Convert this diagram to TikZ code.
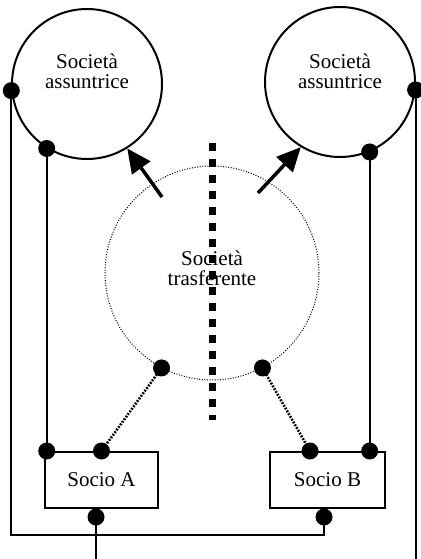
\documentclass[tikz,border=0pt]{standalone}
\usepackage{fontspec}
\setmainfont{Liberation Serif}
\usetikzlibrary{arrows.meta}
\begin{document}
\begin{tikzpicture}[x=1pt,y=-1pt,
  circ/.style={draw, circle, line width=2pt, minimum size=150pt, inner sep=0pt},
  tcirc/.style={draw, circle, line width=1pt, dash pattern=on 1pt off 1.6pt, minimum size=214pt, inner sep=0pt},
  sbox/.style={draw, rectangle, line width=2pt, minimum height=56pt, inner sep=0pt, font=\fontsize{21}{20}\selectfont},
  lbl/.style={font=\fontsize{21}{20}\selectfont, align=center, inner sep=0pt},
  link/.style={line width=2pt},
  dlink/.style={line width=2.6pt, dash pattern=on 1.8pt off 1.4pt},
  blob/.style={fill=black, circle, minimum size=17pt, inner sep=0pt},
  push/.style={line width=3.5pt, -{Triangle[length=24pt,width=22pt]}},
  divider/.style={line width=7pt, dash pattern=on 7.5pt off 8.5pt}
]
\useasboundingbox (0,0) rectangle (420,559);
% circles
\node[circ] (L) at (87,84) {};
\node[circ] (R) at (340,82) {};
\node[tcirc] (T) at (212,273) {};
% divider
\coordinate (dtop) at (212,143);
\coordinate (dbot) at (212,420);
\draw[divider] (dtop) -- (dbot);
% labels
\node[lbl] (Lt) at (87,71) {Società\\assuntrice};
\node[lbl] (Rt) at (340,71) {Società\\assuntrice};
\node[lbl] (Tt) at (212,268) {Società\\trasferente};
% boxes
\node[sbox, minimum width=113pt] (A) at (101.5,480) {Socio A};
\node[sbox, minimum width=115pt] (B) at (327.5,480) {Socio B};
% arrows
\coordinate (tl) at (162,197);
\coordinate (tr) at (258,193);
\draw[push] (tl) -- (L.302);
\draw[push] (tr) -- (R.239);
% connection points
\coordinate (la) at (L.185);
\coordinate (lb) at (L.238);
\coordinate (ra) at (R.-6);
\coordinate (rb) at (R.-67);
\coordinate (ta) at (T.242);
\coordinate (tb) at (T.298);
\coordinate (an) at (A.north);
\coordinate (bn) at ([xshift=-17.5pt]B.north);
\coordinate (alb) at (lb |- A.north);
\coordinate (brb) at (rb |- B.north);
\coordinate (ab) at ([xshift=-5.5pt,yshift=-8pt]A.south);
\coordinate (bb) at ([xshift=-3.5pt,yshift=-8pt]B.south);
\coordinate (lowA) at (0,535);
\coordinate (lowB) at (0,560.2);
% links
\draw[link] (lb) -- (alb);
\draw[link] (rb) -- (brb);
\draw[dlink] (an) -- (ta);
\draw[dlink] (bn) -- (tb);
\draw[link] (la) -- (la |- lowA) -| (bb);
\draw[link] (ra) -- (ra |- lowB) -| (ab);
% dots
\foreach \p in {la,lb,ra,rb,ta,tb,an,bn,alb,brb,ab,bb}
  \node[blob] (d\p) at (\p) {};
\end{tikzpicture}
\end{document}
